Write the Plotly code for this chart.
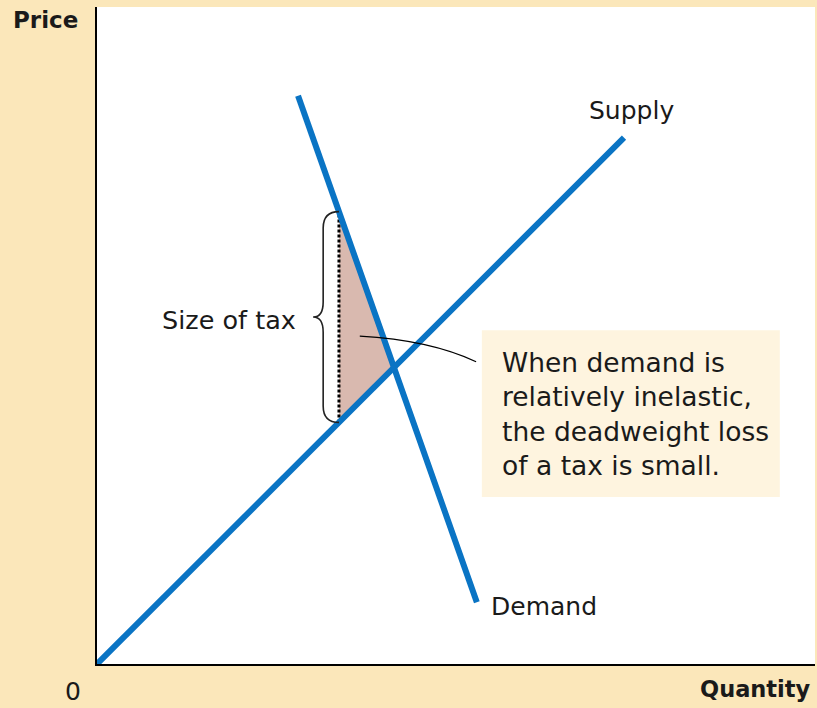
import plotly.graph_objects as go
import numpy as np

# ---- data (quantity, price) ----
supply_q = [0.0, 73.4]
supply_p = [0.0, 80.1]
demand_q = [28.0, 52.9]
demand_p = [86.5, 9.4]
tax_q = 33.7  # quantity at which the tax wedge is drawn

labels = {"supply": "Supply", "demand": "Demand", "tax": "Size of tax"}
note_lines = ["When demand is", "relatively inelastic,",
              "the deadweight loss", "of a tax is small."]

# derived values
s_slope = (supply_p[1] - supply_p[0]) / (supply_q[1] - supply_q[0])
d_slope = (demand_p[1] - demand_p[0]) / (demand_q[1] - demand_q[0])
def supply(q): return supply_p[0] + s_slope * (q - supply_q[0])
def demand(q): return demand_p[0] + d_slope * (q - demand_q[0])
eq_q = (demand_p[0] - d_slope * demand_q[0] - supply_p[0] + s_slope * supply_q[0]) / (s_slope - d_slope)
eq_p = supply(eq_q)
tax_top = demand(tax_q)
tax_bot = supply(tax_q)

BLUE = "#0A74C4"
TAN = "#FBE7BA"
FILL = "#D9B9AF"
BOX = "#FEF4DF"
FONT = "DejaVu Sans"

fig = go.Figure()

# deadweight loss triangle
fig.add_trace(go.Scatter(x=[tax_q, eq_q, tax_q, tax_q], y=[tax_top, eq_p, tax_bot, tax_top],
                         mode="lines", fill="toself", fillcolor=FILL,
                         line=dict(width=0), hoverinfo="skip"))
# dotted tax wedge
fig.add_trace(go.Scatter(x=[tax_q, tax_q], y=[tax_bot, tax_top], mode="lines",
                         line=dict(color="black", width=3, dash="3px,2px"), hoverinfo="skip"))
# supply & demand
fig.add_trace(go.Scatter(x=supply_q, y=supply_p, mode="lines",
                         line=dict(color=BLUE, width=6), hoverinfo="skip"))
fig.add_trace(go.Scatter(x=demand_q, y=demand_p, mode="lines",
                         line=dict(color=BLUE, width=6), hoverinfo="skip"))

# note box
fig.add_shape(type="rect", x0=53.6, x1=95.1, y0=25.4, y1=50.8,
              fillcolor=BOX, line=dict(width=0), layer="below")

# brace
bx, tipx, ex = 31.5, 30.1, tax_q
mid = (tax_top + tax_bot) / 2
brace = (f"M {ex},{tax_top} Q {bx},{tax_top} {bx},{tax_top-2.5} "
         f"L {bx},{mid+2.3} Q {bx},{mid} {tipx},{mid} "
         f"Q {bx},{mid} {bx},{mid-2.3} "
         f"L {bx},{tax_bot+2.5} Q {bx},{tax_bot} {ex},{tax_bot}")
fig.add_shape(type="path", path=brace, line=dict(color="#222222", width=1.6))

# pointer line
fig.add_shape(type="path", path="M 36.6,49.9 Q 46.4,49.3 52.8,46.0",
              line=dict(color="black", width=1.3))

ann = []
ann.append(dict(x=68.2, y=84.3, text=labels["supply"], xanchor="left", yanchor="middle",
                font=dict(size=25)))
ann.append(dict(x=54.6, y=8.7, text=labels["demand"], xanchor="left", yanchor="middle",
                font=dict(size=25)))
ann.append(dict(x=28.0, y=52.4, text=labels["tax"], xanchor="right", yanchor="middle",
                font=dict(size=25.5)))
ann.append(dict(x=56.1, y=38.0, text="<br>".join(note_lines), xanchor="left", yanchor="middle",
                align="left", font=dict(size=26.5)))
for a in ann:
    a.update(xref="x", yref="y")

# axis titles placed in paper coordinates
ann.append(dict(x=-0.0724, y=0.980, text="<b>Price</b>", xanchor="center", yanchor="middle",
                xref="paper", yref="paper", font=dict(size=23)))
ann.append(dict(x=-0.0334, y=-0.0426, text="0", xanchor="center", yanchor="middle",
                xref="paper", yref="paper", font=dict(size=25)))
ann.append(dict(x=0.997, y=-0.038, text="<b>Quantity</b>", xanchor="right", yanchor="middle",
                xref="paper", yref="paper", font=dict(size=22.5)))
for a in ann:
    a.update(showarrow=False)
    a["font"].update(family=FONT, color="#1a1a1a")

fig.update_layout(
    width=817, height=708,
    margin=dict(l=97, r=2, t=7, b=44),
    paper_bgcolor=TAN, plot_bgcolor="white",
    showlegend=False, annotations=ann,
    xaxis=dict(range=[0, 100], showgrid=False, zeroline=False, showticklabels=False,
               ticks="", showline=True, linecolor="black", linewidth=2, fixedrange=True),
    yaxis=dict(range=[0, 100], showgrid=False, zeroline=False, showticklabels=False,
               ticks="", showline=True, linecolor="black", linewidth=2, fixedrange=True),
)

fig.write_html("out.html", config={"displayModeBar": False},
               post_script="document.body.style.margin='0';document.body.style.overflow='hidden';")
